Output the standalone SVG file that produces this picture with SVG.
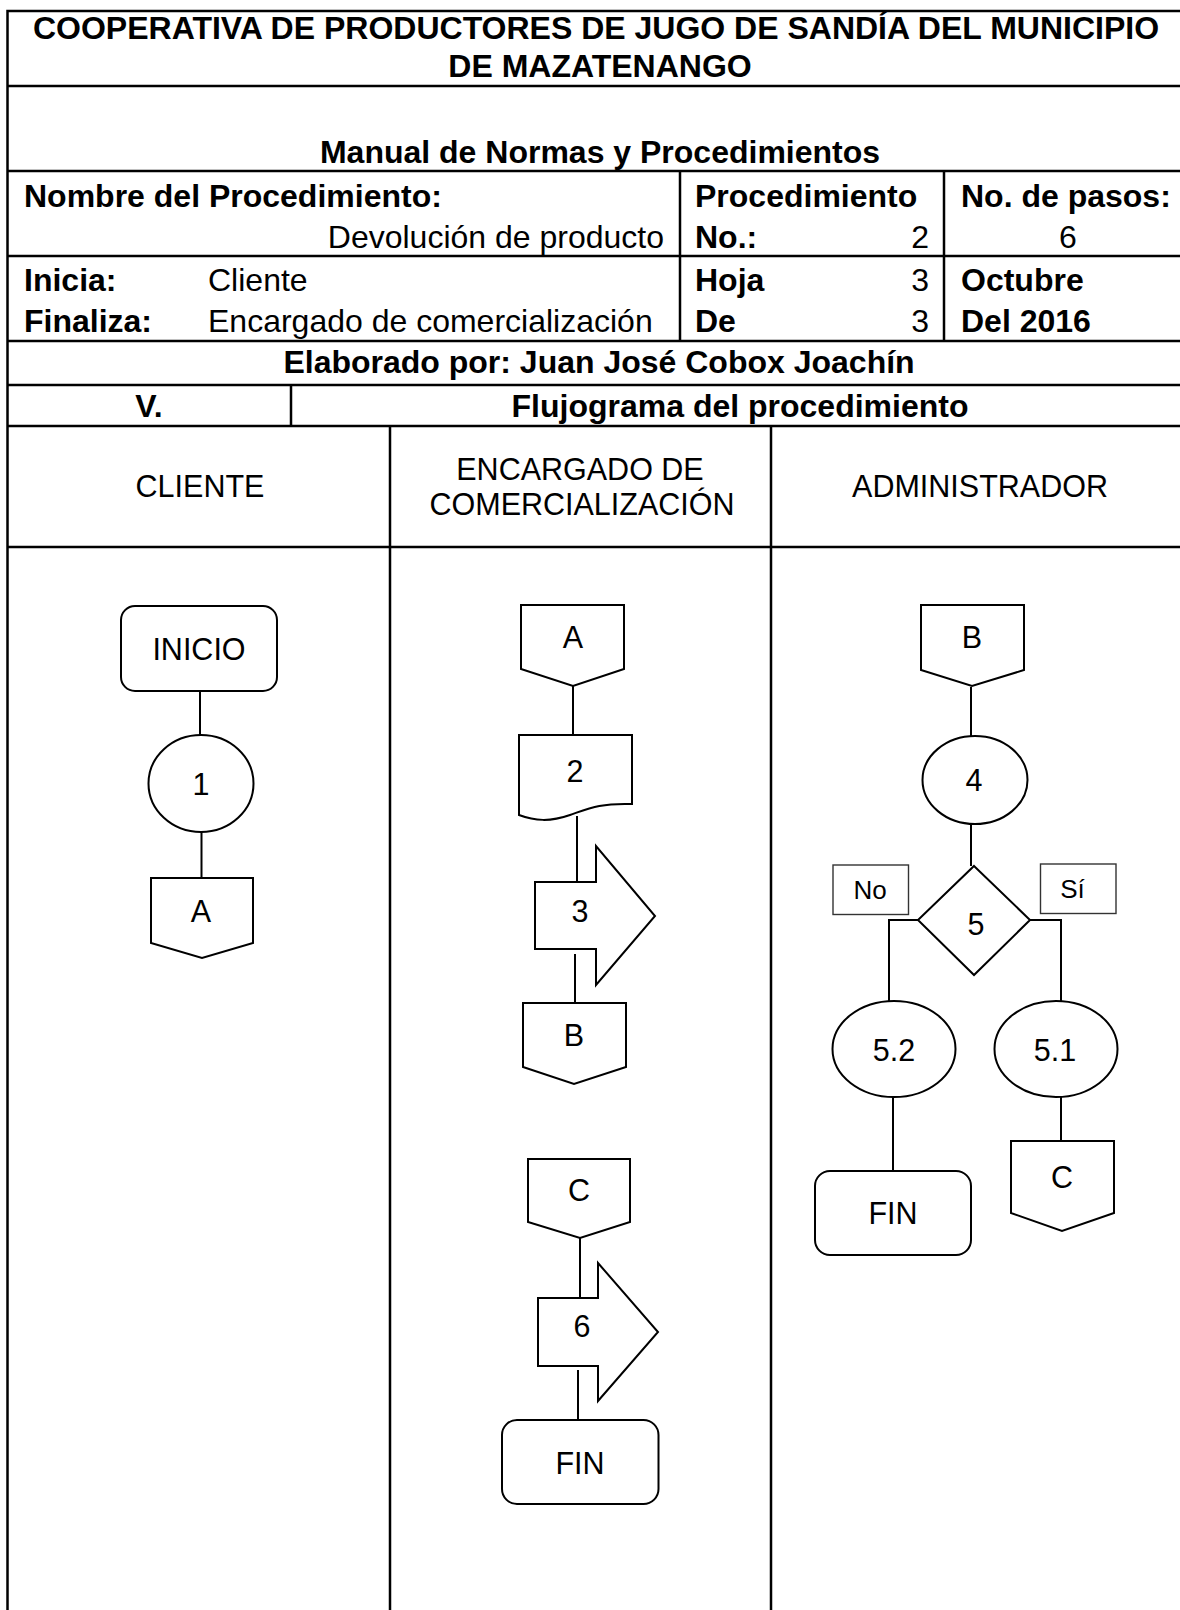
<svg xmlns="http://www.w3.org/2000/svg" width="1180" height="1610" viewBox="0 0 1180 1610">
<style>
text{font-family:"Liberation Sans",Arial,sans-serif;fill:#000}
.hb{font-size:32px;font-weight:bold}
.hr{font-size:32px}
.m{text-anchor:middle}
.e{text-anchor:end}
.ln{font-size:30.5px;text-anchor:middle}
.st{font-size:30.5px;text-anchor:middle}
.lb{font-size:26px;text-anchor:middle}
.tl{stroke:#000;stroke-width:2.5;fill:none}
.shape{fill:#fff;stroke:#000;stroke-width:2}
.lbox{fill:#fff;stroke:#333;stroke-width:1.4}
.conn{stroke:#000;stroke-width:2;fill:none}
</style>
<rect width="1180" height="1610" fill="#fff"/>
<g id="table">
<path class="tl" d="M7.5,1610 V11 H1180 M7.5,86 H1180 M7.5,171 H1180 M7.5,256 H1180 M7.5,341 H1180 M7.5,385 H1180 M7.5,426 H1180 M7.5,547 H1180 M680,171 V341 M944,171 V341 M291,385 V426 M390,426 V1610 M771,426 V1610"/>
<text class="hb m" x="596" y="39">COOPERATIVA DE PRODUCTORES DE JUGO DE SANDÍA DEL MUNICIPIO</text>
<text class="hb m" x="600" y="77">DE MAZATENANGO</text>
<text class="hb m" x="600" y="163">Manual de Normas y Procedimientos</text>
<text class="hb" x="24" y="207">Nombre del Procedimiento:</text>
<text class="hr e" x="664" y="248">Devolución de producto</text>
<text class="hb" x="695" y="207">Procedimiento</text>
<text class="hb" x="695" y="248">No.:</text>
<text class="hr e" x="929" y="248">2</text>
<text class="hb" x="961" y="207">No. de pasos:</text>
<text class="hr m" x="1068" y="248">6</text>
<text class="hb" x="24" y="291">Inicia:</text>
<text class="hr" x="208" y="291">Cliente</text>
<text class="hb" x="695" y="291">Hoja</text>
<text class="hr e" x="929" y="291">3</text>
<text class="hb" x="961" y="291">Octubre</text>
<text class="hb" x="24" y="332">Finaliza:</text>
<text class="hr" x="208" y="332">Encargado de comercialización</text>
<text class="hb" x="695" y="332">De</text>
<text class="hr e" x="929" y="332">3</text>
<text class="hb" x="961" y="332">Del 2016</text>
<text class="hb m" x="599" y="373">Elaborado por: Juan José Cobox Joachín</text>
<text class="hb m" x="149" y="417">V.</text>
<text class="hb m" x="740" y="417">Flujograma del procedimiento</text>
<text class="ln" x="200" y="497">CLIENTE</text>
<text class="ln" x="580" y="480">ENCARGADO DE</text>
<text class="ln" x="582" y="515">COMERCIALIZACIÓN</text>
<text class="ln" x="980" y="497">ADMINISTRADOR</text>
</g>
<g id="connectors">
<path class="conn" d="M200,691 V735"/>
<path class="conn" d="M201.5,832 V878"/>
<path class="conn" d="M573,686 V735"/>
<path class="conn" d="M577,816 V882"/>
<path class="conn" d="M575,954 V1003"/>
<path class="conn" d="M580,1238 V1297"/>
<path class="conn" d="M578,1370 V1420"/>
<path class="conn" d="M971,687 V736"/>
<path class="conn" d="M971,824 V866"/>
<path class="conn" d="M918,920 H889 V1001"/>
<path class="conn" d="M1030,920 H1061 V1001"/>
<path class="conn" d="M893,1097 V1171"/>
<path class="conn" d="M1061,1097 V1141"/>
</g>
<g id="inicio"><rect class="shape" x="121" y="606" width="156" height="85" rx="14"/><text class="st" x="199" y="660">INICIO</text></g>
<g id="step1"><ellipse class="shape" cx="201" cy="783.5" rx="52.5" ry="48.5"/><text class="st" x="201" y="795">1</text></g>
<g id="offA1"><path class="shape" d="M151,878 H253 V943 L202,958 L151,943 Z"/><text class="st" x="201" y="922">A</text></g>
<g id="offA2"><path class="shape" d="M521,605 H624 V669 L573,686 L521,669 Z"/><text class="st" x="573" y="648">A</text></g>
<g id="step2"><path class="shape" d="M519,735 H632 V804 C600,803 590,808 570,815 C550,822 535,821 519,815 Z"/><text class="st" x="575" y="782">2</text></g>
<g id="step3"><path class="shape" d="M535,882 H596 V846 L655,916 L596,985 V949 H535 Z"/><text class="st" x="580" y="922">3</text></g>
<g id="offB1"><path class="shape" d="M523,1003 H626 V1067 L574,1084 L523,1067 Z"/><text class="st" x="574" y="1046">B</text></g>
<g id="offC1"><path class="shape" d="M528,1159 H630 V1222 L580,1238 L528,1222 Z"/><text class="st" x="579" y="1201">C</text></g>
<g id="step6"><path class="shape" d="M538,1298 H598 V1263 L658,1332 L598,1401 V1366 H538 Z"/><text class="st" x="582" y="1337">6</text></g>
<g id="fin1"><rect class="shape" x="502" y="1420" width="156.5" height="84" rx="15"/><text class="st" x="580" y="1474">FIN</text></g>
<g id="offB2"><path class="shape" d="M921,605 H1024 V670 L972,686 L921,670 Z"/><text class="st" x="972" y="648">B</text></g>
<g id="step4"><ellipse class="shape" cx="975" cy="780" rx="52.5" ry="44"/><text class="st" x="974" y="791">4</text></g>
<g id="step5"><path class="shape" d="M974,866 L1030,920 L974,975 L918,920 Z"/><text class="st" x="976" y="935">5</text></g>
<g id="labelNo"><rect class="lbox" x="833" y="865" width="75.5" height="49.5"/><text class="lb" x="870" y="899">No</text></g>
<g id="labelSi"><rect class="lbox" x="1040.5" y="864" width="75.5" height="49.5"/><text class="lb" x="1072.5" y="898">Sí</text></g>
<g id="step52"><ellipse class="shape" cx="894" cy="1049" rx="61.5" ry="48"/><text class="st" x="894" y="1061">5.2</text></g>
<g id="step51"><ellipse class="shape" cx="1056" cy="1049" rx="61.5" ry="48"/><text class="st" x="1055" y="1061">5.1</text></g>
<g id="fin2"><rect class="shape" x="815" y="1171" width="156" height="84" rx="15"/><text class="st" x="893" y="1224">FIN</text></g>
<g id="offC2"><path class="shape" d="M1011,1141 H1114 V1213 L1062,1231 L1011,1213 Z"/><text class="st" x="1062" y="1188">C</text></g>
</svg>
